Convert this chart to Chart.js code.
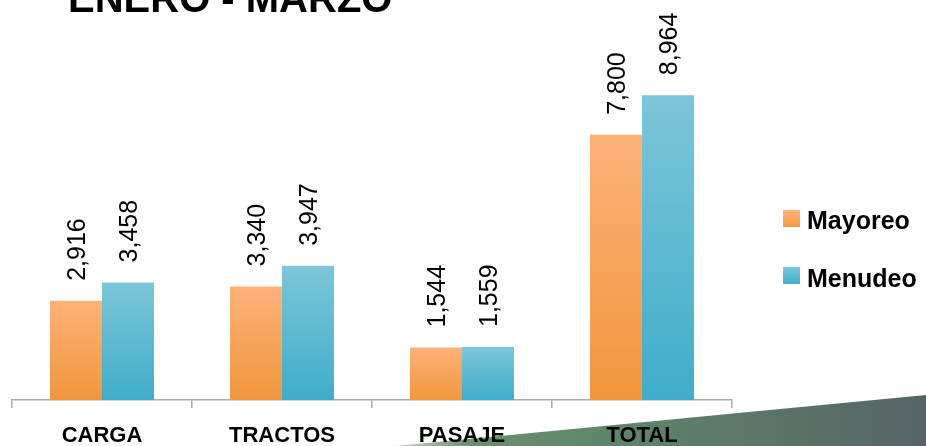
<!DOCTYPE html>
<html>
<head>
<meta charset="utf-8">
<script src="https://cdn.jsdelivr.net/npm/chart.js@4"></script>
<style>
  html, body { margin: 0; padding: 0; background: #fff; overflow: hidden; }
  #wrap { position: relative; width: 926px; height: 446px; overflow: hidden; }
  #deco {
    position: absolute; left: 0; top: 0; width: 926px; height: 446px;
    background: linear-gradient(90deg, #e4e7e4 0px, #c9d2c9 400px, #6a8f6c 470px, #5e826a 650px, #566466 926px);
    clip-path: polygon(395px 446px, 926px 395px, 926px 446px);
  }
  #chart { position: absolute; left: 0; top: 0; }
  #title {
    position: absolute; left: 68px; top: -22px; margin: 0;
    font: bold 40px/40px "Liberation Sans", Arial, sans-serif; color: #000; white-space: nowrap;
  }
  .leg { position: absolute; left: 783px; font: bold 25px/25px "Liberation Sans", Arial, sans-serif; color: #000; white-space: nowrap; }
  .leg i { position: absolute; left: 0; width: 17px; height: 17px; }
  .leg span { position: absolute; left: 24px; }
</style>
</head>
<body>
<div id="wrap">
  <div id="deco"></div>
  <canvas id="chart" width="926" height="446"></canvas>
  <div id="title">ENERO - MARZO</div>
  <div class="leg" style="top:210px"><i style="background:linear-gradient(#fdb27a,#f29a3f)"></i><span style="top:-2px">Mayoreo</span></div>
  <div class="leg" style="top:267px"><i style="background:linear-gradient(#7cc6d8,#42afcb)"></i><span style="top:-1px">Menudeo</span></div>
</div>
<script>
// data
const categories = ["CARGA", "TRACTOS", "PASAJE", "TOTAL"];
const mayoreo = [2916, 3340, 1544, 7800];
const menudeo = [3458, 3947, 1559, 8964];
const seriesNames = ["Mayoreo", "Menudeo"];

// vertical gradient for each bar, from its own top down to the axis
function barGradient(light, dark) {
    return function (ctx) {
        const chart = ctx.chart;
        const area = chart.chartArea;
        if (!area || ctx.raw === undefined) return dark;
        const top = chart.scales.y.getPixelForValue(ctx.raw);
        const g = chart.ctx.createLinearGradient(0, top, 0, area.bottom);
        g.addColorStop(0, light);
        g.addColorStop(1, dark);
        return g;
    };
}

// rotated value labels above the bars
const valueLabels = {
    id: "valueLabels",
    afterDatasetsDraw(chart) {
        const ctx = chart.ctx;
        ctx.save();
        ctx.font = "25px 'Liberation Sans', Arial, sans-serif";
        ctx.fillStyle = "#000";
        ctx.textAlign = "left";
        ctx.textBaseline = "middle";
        chart.data.datasets.forEach((ds, i) => {
            chart.getDatasetMeta(i).data.forEach((bar, j) => {
                ctx.save();
                ctx.translate(bar.x + 2, bar.y - 20);
                ctx.rotate(-Math.PI / 2);
                ctx.fillText(ds.data[j].toLocaleString("en-US"), 0, 0);
                ctx.restore();
            });
        });
        ctx.restore();
    }
};

new Chart(document.getElementById("chart"), {
    type: "bar",
    data: {
        labels: categories,
        datasets: [
            { label: seriesNames[0], data: mayoreo, backgroundColor: barGradient("#fdb27a", "#f0963c") },
            { label: seriesNames[1], data: menudeo, backgroundColor: barGradient("#7cc6d8", "#40adca") }
        ]
    },
    options: {
        responsive: false,
        animation: false,
        layout: { padding: { left: 12, right: 194, top: 60, bottom: 0 } },
        categoryPercentage: 0.578,
        barPercentage: 1,
        plugins: { legend: { display: false }, tooltip: { enabled: false } },
        scales: {
            y: { display: false, min: 0, max: 10000 },
            x: {
                afterFit: s => { s.height = 46; },
                grid: { drawOnChartArea: false, color: "#aaaaaa", tickLength: 8, lineWidth: 1.5 },
                border: { color: "#aaaaaa", width: 1.5 },
                ticks: {
                    color: "#000",
                    padding: 15,
                    font: { family: "'Liberation Sans', Arial, sans-serif", size: 22, weight: "bold" }
                }
            }
        }
    },
    plugins: [valueLabels]
});
</script>
</body>
</html>
